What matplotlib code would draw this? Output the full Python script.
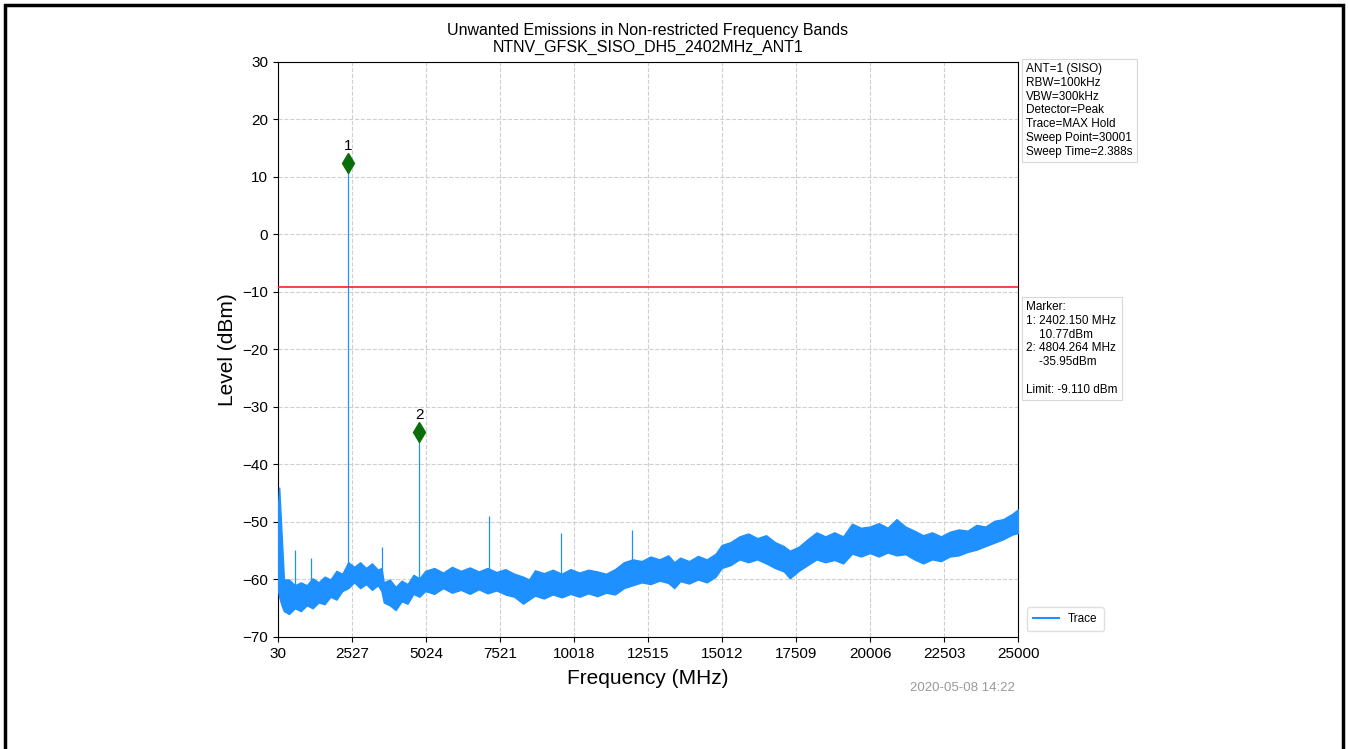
import matplotlib
matplotlib.use("Agg")
import matplotlib.pyplot as plt
import matplotlib.patches as mpatches

plt.rcParams['font.family'] = ['Liberation Sans', 'DejaVu Sans']

# ---- data ----
env_freq = [30, 70, 150, 230, 400, 600, 800, 1000, 1200, 1400, 1600, 1800, 2000, 2200,
            2400, 2600, 2800, 3000, 3200, 3400, 3520, 3600, 3800, 4000, 4200, 4400,
            4600, 4800, 5000, 5300, 5600, 5900, 6200, 6500, 6800, 7100, 7400, 7700,
            8000, 8300, 8500, 8700, 9000, 9300, 9600, 9900, 10200, 10500, 10800,
            11100, 11400, 11700, 12000, 12300, 12600, 12900, 13200, 13400, 13600,
            13900, 14200, 14500, 14800, 15000, 15300, 15600, 15900, 16200, 16500,
            16800, 17100, 17300, 17600, 17900, 18200, 18500, 18800, 19100, 19400,
            19700, 20000, 20300, 20600, 20900, 21200, 21500, 21800, 22100, 22400,
            22700, 23000, 23300, 23600, 23900, 24200, 24500, 24800, 25000]
env_lower = [-62, -63, -64.5, -65.5, -66, -65, -65.5, -64.5, -65, -64, -64.3, -63, -63.5, -62,
             -61.5, -60.5, -61.5, -60.8, -61.8, -61, -62, -64, -64.5, -65.3, -63.8, -64.2,
             -62.5, -63, -62, -62.5, -61.5, -62.3, -61.8, -62.5, -61.7, -62.4, -61.9, -62.6,
             -63, -64.2, -63.5, -62.8, -63.3, -62.6, -63.1, -62.5, -63, -62.4, -62.9,
             -62.3, -62.6, -61.5, -61, -60.5, -60.8, -60.2, -60.6, -61.5, -60.3,
             -60.7, -60, -60.5, -59.5, -58, -57.5, -56.5, -57, -56.5, -57.2,
             -58, -58.6, -59.8, -58.5, -57.5, -56.5, -57, -56.6, -57.2, -55.5,
             -56, -55.4, -56, -55.3, -55.8, -55.6, -56.5, -57.2, -56.5, -56.8,
             -56, -55.8, -55.2, -54.8, -54.2, -53.6, -53, -52.2, -51.9]
env_upper = [-47, -44, -52, -60, -60, -61, -60.5, -61, -59.8, -60.5, -59.5, -60, -58.5, -59,
             -57, -57.8, -57, -58, -57.2, -58.3, -58, -60.5, -60, -61.3, -60.2, -60.8,
             -59.2, -59.8, -58.5, -58, -58.8, -57.8, -58.5, -57.9, -58.6, -58, -58.7, -58.2,
             -59, -59.5, -60, -58.4, -58.9, -58.3, -59, -58.2, -58.8, -58.3, -58.6,
             -59, -58.2, -57, -56.5, -56.8, -56, -56.5, -55.8, -57, -56.2,
             -56.8, -55.9, -56.5, -55.5, -54, -53.5, -52.5, -52, -52.8, -52.3,
             -53.5, -54.2, -55, -54.3, -53, -51.8, -52.5, -51.8, -52.5, -50.3,
             -51, -50.8, -50.2, -51, -49.5, -50.8, -51.5, -52.3, -51.8, -52.5,
             -51.7, -51.3, -51.5, -50.5, -50.8, -49.8, -49.5, -48.6, -47.8]

spike_freq = [604, 1143, 2402.15, 3540, 4804.264, 7150, 9580, 11980]
spike_top = [-54.9, -56.3, 12.4, -54.3, -34.3, -49, -51.9, -51.4]
spike_base = [-62, -62, -60, -60, -61, -60, -60, -60]

marker_freq = [2402.15, 4804.264]
marker_level = [12.4, -34.3]
marker_names = ["1", "2"]

limit_level = -9.110

xticks = [30, 2527, 5024, 7521, 10018, 12515, 15012, 17509, 20006, 22503, 25000]
yticks = [-70, -60, -50, -40, -30, -20, -10, 0, 10, 20, 30]

info_lines = ["ANT=1 (SISO)", "RBW=100kHz", "VBW=300kHz", "Detector=Peak",
              "Trace=MAX Hold", "Sweep Point=30001", "Sweep Time=2.388s"]
marker_lines = ["Marker:", "1: 2402.150 MHz", "    10.77dBm", "2: 4804.264 MHz",
                "    -35.95dBm", "", "Limit: -9.110 dBm"]

W, H = 1348, 749
fig = plt.figure(figsize=(W / 100, H / 100), dpi=100)
ax = fig.add_axes([278 / W, 1 - 637 / H, (1018 - 278) / W, (637 - 62) / H])

trace_color = '#1E90FF'
ax.fill_between(env_freq, env_lower, env_upper, color=trace_color, linewidth=1.0,
                edgecolor=trace_color, zorder=3)
ax.vlines(spike_freq, spike_base, spike_top, color=trace_color, linewidth=0.9, zorder=3)
ax.plot([], [], color=trace_color, linewidth=1.5, label='Trace')
ax.axhline(limit_level, color='#FF2020', linewidth=1.2, zorder=4)
ax.plot(marker_freq, marker_level, linestyle='none', marker='d', color='#0A6E0A',
        markersize=10, zorder=5)
for f, l, n in zip(marker_freq, marker_level, marker_names):
    ax.annotate(n, (f, l), textcoords='offset points', xytext=(0, 7), ha='center',
                va='bottom', fontsize=11)

ax.set_xlim(30, 25000)
ax.set_ylim(-70, 30)
ax.set_xticks(xticks)
ax.set_yticks(yticks)
ax.tick_params(labelsize=11)
ax.grid(True, color='#CFCFCF', linestyle='--', linewidth=0.8)
ax.set_axisbelow(True)
ax.set_xlabel('Frequency (MHz)', fontsize=15, labelpad=6)
ax.set_ylabel('Level (dBm)', fontsize=15, labelpad=4)
ax.set_title('Unwanted Emissions in Non-restricted Frequency Bands\nNTNV_GFSK_SISO_DH5_2402MHz_ANT1',
             fontsize=11.5, pad=7, linespacing=1.15)

box = dict(boxstyle='square,pad=0.35', facecolor='white', edgecolor='#D8D8D8', linewidth=0.8)
fig.text(1026 / W, 1 - 63 / H, "\n".join(info_lines), fontsize=8.5, va='top', ha='left',
         bbox=box, linespacing=1.2)
fig.text(1026 / W, 1 - 301 / H, "\n".join(marker_lines), fontsize=8.5, va='top', ha='left',
         bbox=box, linespacing=1.2)

leg = ax.legend(loc='lower left', bbox_to_anchor=(1021 / W, 1 - 637 / H),
                bbox_transform=fig.transFigure, fontsize=8.5, frameon=True,
                handlelength=2.2, borderpad=0.5)
leg.get_frame().set_edgecolor('#D8D8D8')

fig.text(962 / W, 1 - 688 / H, "2020-05-08 14:22", fontsize=9.5, color='#999999',
         ha='center', va='center')

frame = mpatches.Rectangle((5 / W, -0.02), (1343 - 5) / W, 1 - 5 / H + 0.02,
                           transform=fig.transFigure, fill=False, edgecolor='black',
                           linewidth=2.5)
fig.add_artist(frame)

fig.savefig('out.png', dpi=100)
